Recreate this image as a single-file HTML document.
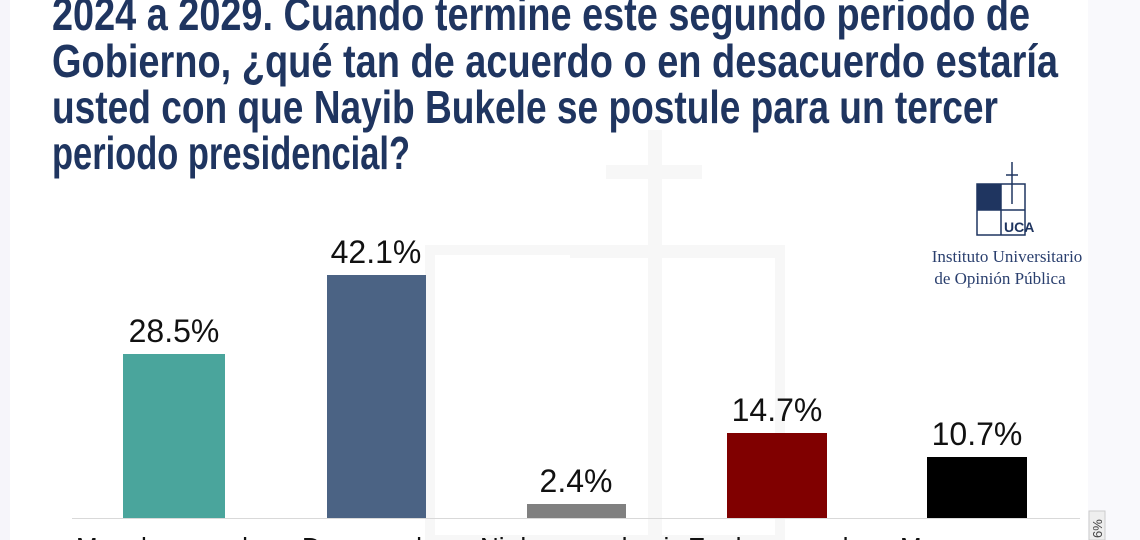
<!DOCTYPE html>
<html><head><meta charset="utf-8"><style>
html,body{margin:0;padding:0;background:#fff;}
svg{display:block}
</style></head><body>
<svg width="1140" height="540" xmlns="http://www.w3.org/2000/svg">
<rect width="1140" height="540" fill="#fff"/>
<rect x="0" y="0" width="10" height="540" fill="#f6f5fa"/>
<rect x="1088" y="0" width="52" height="540" fill="#f9f9fc"/>
<!-- watermark -->
<g fill="#f7f7f7">
<rect x="648" y="130" width="14" height="420"/>
<rect x="606" y="165" width="96" height="14"/>
<rect x="570" y="250" width="210" height="8"/>
</g>
<rect x="430" y="250" width="350" height="290" fill="none" stroke="#f7f7f7" stroke-width="10"/>
<g font-family="'Liberation Sans Narrow','Liberation Sans',sans-serif" font-weight="bold" font-size="46" fill="#1f3560">
<text x="52" y="30" textLength="978" lengthAdjust="spacingAndGlyphs">2024 a 2029. Cuando termine este segundo periodo de</text>
<text x="52" y="77" textLength="1006" lengthAdjust="spacingAndGlyphs">Gobierno, ¿qué tan de acuerdo o en desacuerdo estaría</text>
<text x="52" y="123" textLength="946" lengthAdjust="spacingAndGlyphs">usted con que Nayib Bukele se postule para un tercer</text>
<text x="52" y="169" textLength="358" lengthAdjust="spacingAndGlyphs">periodo presidencial?</text>
</g>
<!-- logo -->
<g stroke="#1f3560" fill="none" stroke-width="1.5">
<line x1="1012" y1="162" x2="1012" y2="204"/>
<line x1="1006" y1="175" x2="1018" y2="175"/>
<rect x="977" y="184" width="48" height="51"/>
<line x1="1001" y1="184" x2="1001" y2="235"/>
<line x1="977" y1="210" x2="1025" y2="210"/>
</g>
<rect x="977" y="184" width="24" height="26" fill="#1f3560"/>
<text x="1004" y="232" font-family="'Liberation Sans Narrow',sans-serif" font-weight="bold" font-size="14" fill="#1f3560">UCA</text>
<g font-family="'Liberation Serif',serif" font-size="17" fill="#2a3f6e" text-anchor="middle">
<text x="1007" y="262">Instituto Universitario</text>
<text x="1000" y="284">de Opinión Pública</text>
</g>
<!-- bars -->
<line x1="72" y1="518.5" x2="1080" y2="518.5" stroke="#d9d9d9" stroke-width="1"/>
<rect x="123" y="354" width="102" height="164" fill="#4aa59c"/>
<rect x="327" y="275" width="99" height="243" fill="#4b6384"/>
<rect x="527" y="504" width="99" height="14" fill="#808080"/>
<rect x="727" y="433" width="100" height="85" fill="#800000"/>
<rect x="927" y="457" width="100" height="61" fill="#000"/>
<g font-family="'Liberation Sans Narrow','Liberation Sans',sans-serif" font-size="32" fill="#111" text-anchor="middle">
<text x="174" y="342">28.5%</text>
<text x="376" y="263">42.1%</text>
<text x="576" y="492">2.4%</text>
<text x="777" y="421">14.7%</text>
<text x="977" y="445">10.7%</text>
</g>
<g font-family="'Liberation Sans',sans-serif" font-size="26" fill="#111">
<text x="76" y="556">Muy de acuerdo</text>
<text x="302" y="556">De acuerdo</text>
<text x="480" y="556">Ni de acuerdo ni</text>
<text x="688" y="556">En desacuerdo</text>
<text x="900" y="556">Muy en</text>
</g>
<rect x="1089" y="511" width="16" height="29" fill="#eee" stroke="#ccc"/>
<text transform="translate(1102,538) rotate(-90)" font-family="'Liberation Sans',sans-serif" font-size="13" fill="#444">6%</text>
</svg>
</body></html>
